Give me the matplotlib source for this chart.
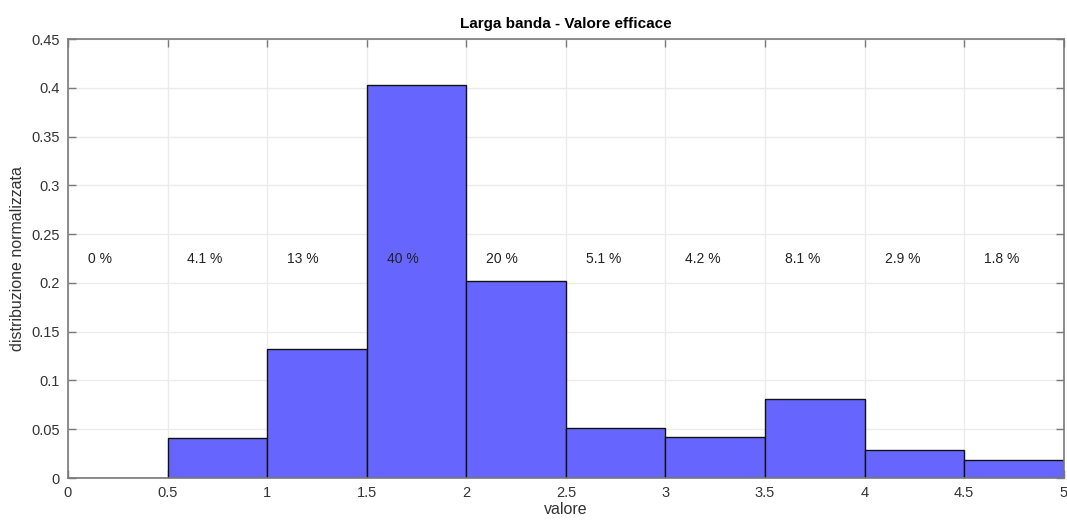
import numpy as np
import matplotlib
matplotlib.use('Agg')
import matplotlib.pyplot as plt

plt.rcParams['font.family'] = ['Liberation Sans', 'DejaVu Sans']

bordi = [0, 0.5, 1, 1.5, 2, 2.5, 3, 3.5, 4, 4.5, 5]
frequenze = [0.0, 0.041, 0.132, 0.403, 0.202, 0.051, 0.042, 0.081, 0.029, 0.018]
etichette = ['0 %', '4.1 %', '13 %', '40 %', '20 %', '5.1 %', '4.2 %', '8.1 %', '2.9 %', '1.8 %']

grigio = '#7a7a7a'
fig = plt.figure(figsize=(10.67, 5.21), dpi=100)
ax = fig.add_axes([0.0637, 0.0825, 0.9333, 0.8425])

larghezza = np.diff(bordi)
ax.bar(bordi[:-1], frequenze, width=larghezza, align='edge',
       color='#6666ff', edgecolor='#111111', linewidth=1.0, zorder=2)

for b, et in zip(bordi[:-1], etichette):
    ax.text(b + 0.1, 0.225, et, fontsize=10, color='#222222',
            ha='left', va='center', zorder=3)

ax.set_xlim(0, 5)
ax.set_ylim(0, 0.45)
ax.set_xticks(np.arange(0, 5.01, 0.5))
ax.set_xticklabels(['0', '0.5', '1', '1.5', '2', '2.5', '3', '3.5', '4', '4.5', '5'])
ax.set_yticks(np.arange(0, 0.451, 0.05))
ax.set_yticklabels(['0', '0.05', '0.1', '0.15', '0.2', '0.25', '0.3', '0.35', '0.4', '0.45'])
ax.grid(True, color='#ebebeb', linewidth=1.0, zorder=0)
ax.set_axisbelow(True)
ax.tick_params(direction='in', top=True, right=True, length=6, width=1,
               colors=grigio, labelcolor='#333333', labelsize=10.5, pad=6)
for s in ax.spines.values():
    s.set_color(grigio)
    s.set_linewidth(1.2)

ax.set_title('Larga banda - Valore efficace', fontsize=11, fontweight='bold', pad=8)
ax.set_xlabel('valore', fontsize=11.5, color='#333333', labelpad=1)
ax.set_ylabel('distribuzione normalizzata', fontsize=11.5, color='#333333', labelpad=4)

fig.savefig('out.png', dpi=100)
